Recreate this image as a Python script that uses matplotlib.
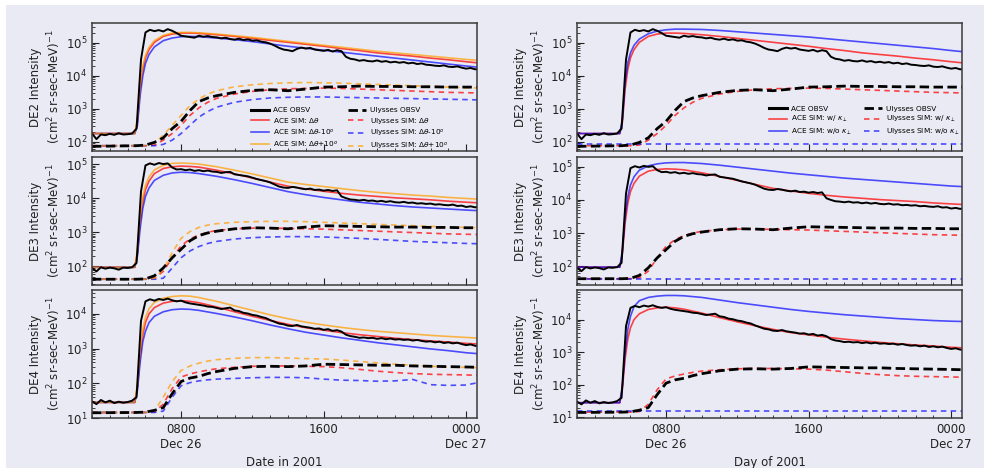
import numpy as np
import matplotlib
matplotlib.use("Agg")
import matplotlib.pyplot as plt
from matplotlib.patches import Rectangle
from matplotlib.ticker import MultipleLocator, LogLocator, NullFormatter

# hours after 2001-12-26 00:00
t_obs = np.arange(3.0, 24.76, 0.25)
t_sim = [3.0, 5.4, 5.55, 5.7, 5.85, 6.0, 6.2, 6.5,
         7.0, 7.5, 8.0, 8.5, 9.0,
         10, 11, 12, 13, 14, 15, 16, 17,
         18, 19, 20, 21, 22, 23, 24, 24.75]
t_uly = [3.0, 5.5, 6.0, 6.5, 7.0, 7.5, 8.0, 8.5,
         9.0, 9.5, 10, 11, 12, 13, 14, 15,
         16, 17, 18, 19, 20, 21, 22, 23,
         24, 24.75]

# everything below is log10(intensity)
ace_obs_de2 = [2.25, 2.08, 2.22, 2.20, 2.24, 2.21, 2.26, 2.22,
               2.23, 2.25, 2.40, 4.50, 5.32, 5.40, 5.36, 5.39,
               5.35, 5.42, 5.37, 5.30, 5.22, 5.20, 5.18, 5.16,
               5.22, 5.19, 5.21, 5.18, 5.17, 5.14, 5.16, 5.12,
               5.10, 5.13, 5.09, 5.11, 5.07, 5.08, 5.04, 5.02,
               4.98, 4.92, 4.85, 4.80, 4.78, 4.75, 4.82, 4.86,
               4.83, 4.85, 4.80, 4.78, 4.76, 4.79, 4.74, 4.78,
               4.75, 4.58, 4.52, 4.50, 4.46, 4.48, 4.45, 4.44,
               4.47, 4.43, 4.45, 4.41, 4.43, 4.40, 4.42, 4.38,
               4.40, 4.36, 4.38, 4.34, 4.33, 4.31, 4.30, 4.32,
               4.28, 4.27, 4.29, 4.25, 4.22, 4.24, 4.20, 4.21]
ace_obs_de3 = [1.95, 1.85, 1.97, 1.93, 1.96, 1.94, 1.90, 1.96,
               1.95, 1.97, 2.10, 4.20, 4.96, 5.02, 4.98, 5.03,
               5.00, 5.02, 4.90, 4.84, 4.85, 4.82, 4.84, 4.80,
               4.82, 4.79, 4.81, 4.78, 4.77, 4.74, 4.76, 4.77,
               4.70, 4.68, 4.66, 4.64, 4.60, 4.56, 4.53, 4.50,
               4.46, 4.40, 4.34, 4.31, 4.30, 4.33, 4.31, 4.28,
               4.26, 4.28, 4.24, 4.25, 4.22, 4.24, 4.21, 4.23,
               4.05, 4.00, 3.96, 3.95, 3.93, 3.95, 3.92, 3.93,
               3.90, 3.92, 3.89, 3.91, 3.88, 3.87, 3.89, 3.86,
               3.87, 3.84, 3.85, 3.83, 3.84, 3.81, 3.82, 3.80,
               3.79, 3.81, 3.77, 3.78, 3.74, 3.76, 3.73, 3.75]
ace_obs_de4 = [1.48, 1.40, 1.52, 1.45, 1.50, 1.43, 1.47, 1.44,
               1.46, 1.50, 1.60, 3.80, 4.36, 4.42, 4.38, 4.43,
               4.40, 4.44, 4.39, 4.36, 4.38, 4.33, 4.30, 4.28,
               4.26, 4.24, 4.21, 4.20, 4.17, 4.14, 4.16, 4.18,
               4.10, 4.08, 4.03, 4.01, 3.97, 3.95, 3.91, 3.88,
               3.82, 3.77, 3.72, 3.70, 3.66, 3.65, 3.68, 3.64,
               3.62, 3.60, 3.57, 3.58, 3.54, 3.56, 3.51, 3.53,
               3.49, 3.40, 3.36, 3.34, 3.31, 3.32, 3.30, 3.31,
               3.28, 3.30, 3.27, 3.29, 3.26, 3.27, 3.25, 3.26,
               3.23, 3.25, 3.22, 3.20, 3.21, 3.18, 3.20, 3.16,
               3.18, 3.15, 3.17, 3.13, 3.10, 3.12, 3.08, 3.07]

# ACE simulations: dtheta (= w/ kappa_perp), dtheta-10, dtheta+10, w/o kappa_perp
ace_sim_de2 = [2.25, 2.25, 2.6, 3.6, 4.2, 4.55, 4.8, 5.02,
               5.2, 5.27, 5.3, 5.3, 5.29,
               5.25, 5.2, 5.14, 5.08, 5.02, 4.96, 4.9, 4.83,
               4.77, 4.7, 4.65, 4.6, 4.54, 4.49, 4.43, 4.39]
ace_minus_de2 = [2.25, 2.25, 2.5, 3.4, 4.0, 4.38, 4.65, 4.88,
                 5.07, 5.15, 5.19, 5.2, 5.19,
                 5.15, 5.1, 5.04, 4.97, 4.9, 4.84, 4.78, 4.72,
                 4.66, 4.6, 4.54, 4.48, 4.42, 4.36, 4.3, 4.26]
ace_plus_de2 = [2.25, 2.25, 2.7, 3.7, 4.3, 4.62, 4.87, 5.07,
                5.23, 5.3, 5.32, 5.32, 5.31,
                5.27, 5.22, 5.17, 5.11, 5.05, 4.99, 4.93, 4.87,
                4.81, 4.75, 4.7, 4.65, 4.6, 4.55, 4.5, 4.47]
ace_nok_de2 = [2.25, 2.25, 2.7, 3.8, 4.4, 4.7, 4.93, 5.12,
               5.28, 5.36, 5.4, 5.42, 5.42,
               5.41, 5.38, 5.34, 5.3, 5.26, 5.22, 5.18, 5.13,
               5.08, 5.03, 4.98, 4.93, 4.88, 4.83, 4.77, 4.73]

ace_sim_de3 = [1.97, 1.97, 2.4, 3.3, 3.9, 4.25, 4.5, 4.72,
               4.87, 4.92, 4.94, 4.93, 4.91,
               4.82, 4.71, 4.59, 4.47, 4.35, 4.27, 4.2, 4.14,
               4.09, 4.05, 4.01, 3.98, 3.95, 3.91, 3.88, 3.86]
ace_minus_de3 = [1.97, 1.97, 2.3, 3.1, 3.7, 4.05, 4.3, 4.52,
                 4.67, 4.74, 4.76, 4.75, 4.72,
                 4.64, 4.54, 4.43, 4.31, 4.19, 4.1, 4.02, 3.95,
                 3.88, 3.83, 3.78, 3.74, 3.71, 3.68, 3.65, 3.63]
ace_plus_de3 = [1.97, 1.97, 2.5, 3.45, 4.05, 4.38, 4.62, 4.83,
                4.96, 5.02, 5.03, 5.02, 5.0,
                4.92, 4.82, 4.71, 4.59, 4.47, 4.4, 4.34, 4.28,
                4.22, 4.17, 4.13, 4.09, 4.06, 4.02, 3.99, 3.97]
ace_nok_de3 = [1.97, 1.97, 2.5, 3.5, 4.1, 4.45, 4.7, 4.9,
               5.03, 5.09, 5.12, 5.13, 5.13,
               5.1, 5.05, 4.99, 4.93, 4.87, 4.81, 4.76, 4.71,
               4.66, 4.62, 4.58, 4.54, 4.5, 4.46, 4.42, 4.4]

ace_sim_de4 = [1.45, 1.45, 1.9, 2.8, 3.4, 3.75, 4.0, 4.18,
               4.31, 4.36, 4.38, 4.36, 4.32,
               4.2, 4.06, 3.93, 3.81, 3.7, 3.6, 3.53, 3.46,
               3.4, 3.35, 3.3, 3.26, 3.22, 3.19, 3.15, 3.13]
ace_minus_de4 = [1.45, 1.45, 1.8, 2.6, 3.2, 3.5, 3.75, 3.93,
                 4.06, 4.12, 4.14, 4.13, 4.1,
                 4.01, 3.91, 3.8, 3.68, 3.57, 3.47, 3.39, 3.31,
                 3.24, 3.17, 3.11, 3.05, 2.99, 2.94, 2.88, 2.85]
ace_plus_de4 = [1.45, 1.45, 2.0, 2.95, 3.55, 3.9, 4.15, 4.33,
                4.45, 4.5, 4.52, 4.51, 4.47,
                4.36, 4.23, 4.1, 3.97, 3.86, 3.76, 3.68, 3.61,
                3.55, 3.5, 3.46, 3.42, 3.38, 3.35, 3.32, 3.3]
ace_nok_de4 = [1.45, 1.45, 2.0, 3.0, 3.7, 4.1, 4.4, 4.58,
               4.68, 4.72, 4.74, 4.74, 4.73,
               4.68, 4.6, 4.52, 4.45, 4.38, 4.31, 4.25, 4.2,
               4.15, 4.11, 4.07, 4.03, 4.0, 3.97, 3.95, 3.94]

uly_obs_de2 = [1.86, 1.88, 1.9, 1.98, 2.12, 2.4, 2.62, 2.95,
               3.22, 3.33, 3.4, 3.5, 3.56, 3.58, 3.55, 3.6,
               3.66, 3.67, 3.69, 3.68, 3.68, 3.67, 3.67, 3.66,
               3.66, 3.66]
uly_sim_de2 = [1.88, 1.88, 1.88, 1.9, 2.05, 2.25, 2.5, 2.8,
               3.03, 3.2, 3.32, 3.45, 3.53, 3.58, 3.61, 3.62,
               3.63, 3.62, 3.6, 3.58, 3.56, 3.54, 3.52, 3.5,
               3.49, 3.48]
uly_minus_de2 = [1.88, 1.88, 1.88, 1.88, 1.92, 2.05, 2.25, 2.5,
                 2.75, 2.92, 3.05, 3.2, 3.28, 3.33, 3.35, 3.36,
                 3.36, 3.35, 3.34, 3.33, 3.32, 3.31, 3.3, 3.29,
                 3.28, 3.27]
uly_plus_de2 = [1.88, 1.88, 1.88, 1.95, 2.2, 2.5, 2.8, 3.1,
                3.3, 3.45, 3.55, 3.67, 3.73, 3.77, 3.79, 3.8,
                3.79, 3.78, 3.76, 3.74, 3.72, 3.7, 3.68, 3.66,
                3.64, 3.63]

uly_obs_de3 = [1.62, 1.62, 1.63, 1.72, 1.95, 2.25, 2.5, 2.75,
               2.9, 2.98, 3.03, 3.1, 3.13, 3.12, 3.1, 3.15,
               3.19, 3.18, 3.17, 3.16, 3.15, 3.15, 3.14, 3.14,
               3.13, 3.13]
uly_sim_de3 = [1.62, 1.62, 1.62, 1.65, 1.85, 2.25, 2.6, 2.8,
               2.92, 3.0, 3.05, 3.1, 3.12, 3.12, 3.11, 3.1,
               3.09, 3.07, 3.05, 3.03, 3.01, 2.99, 2.97, 2.95,
               2.94, 2.93]
uly_minus_de3 = [1.62, 1.62, 1.62, 1.62, 1.65, 1.95, 2.25, 2.45,
                 2.58, 2.67, 2.73, 2.8, 2.84, 2.86, 2.87, 2.87,
                 2.86, 2.84, 2.82, 2.79, 2.76, 2.73, 2.71, 2.69,
                 2.67, 2.66]
uly_plus_de3 = [1.62, 1.62, 1.62, 1.65, 1.9, 2.4, 2.82, 3.02,
                3.14, 3.21, 3.25, 3.29, 3.31, 3.32, 3.32, 3.31,
                3.29, 3.27, 3.25, 3.23, 3.21, 3.19, 3.17, 3.15,
                3.14, 3.13]

uly_obs_de4 = [1.15, 1.16, 1.17, 1.22, 1.3, 1.7, 2.05, 2.15,
               2.2, 2.28, 2.34, 2.43, 2.48, 2.49, 2.48, 2.5,
               2.55, 2.54, 2.53, 2.52, 2.52, 2.5, 2.49, 2.48,
               2.47, 2.46]
uly_sim_de4 = [1.16, 1.16, 1.16, 1.18, 1.4, 1.85, 2.18, 2.27,
               2.33, 2.38, 2.42, 2.46, 2.49, 2.5, 2.5, 2.49,
               2.48, 2.45, 2.4, 2.35, 2.31, 2.28, 2.26, 2.25,
               2.24, 2.23]
uly_minus_de4 = [1.16, 1.16, 1.16, 1.16, 1.2, 1.6, 1.93, 2.02,
                 2.07, 2.1, 2.12, 2.14, 2.16, 2.17, 2.17, 2.16,
                 2.12, 2.09, 2.08, 2.06, 2.07, 2.11, 1.96, 1.94,
                 1.95, 2.03]
uly_plus_de4 = [1.16, 1.16, 1.16, 1.2, 1.6, 2.05, 2.37, 2.5,
                2.58, 2.64, 2.68, 2.72, 2.74, 2.74, 2.73, 2.71,
                2.7, 2.67, 2.63, 2.59, 2.55, 2.52, 2.49, 2.47,
                2.46, 2.45]

# Ulysses w/o kappa_perp stays at background
uly_nok_level = [1.92, 1.60, 1.20]

channels = ["DE2", "DE3", "DE4"]
ace_obs = [ace_obs_de2, ace_obs_de3, ace_obs_de4]
ace_sim = [ace_sim_de2, ace_sim_de3, ace_sim_de4]
ace_minus = [ace_minus_de2, ace_minus_de3, ace_minus_de4]
ace_plus = [ace_plus_de2, ace_plus_de3, ace_plus_de4]
ace_nok = [ace_nok_de2, ace_nok_de3, ace_nok_de4]
uly_obs = [uly_obs_de2, uly_obs_de3, uly_obs_de4]
uly_sim = [uly_sim_de2, uly_sim_de3, uly_sim_de4]
uly_minus = [uly_minus_de2, uly_minus_de3, uly_minus_de4]
uly_plus = [uly_plus_de2, uly_plus_de3, uly_plus_de4]

ylims_left = [(1.72, 5.6), (1.45, 5.2), (1.0, 4.68)]
ylims_right = [(1.72, 5.6), (1.43, 5.29), (0.98, 4.9)]

xtick_pos = [8, 16, 24]
xtick_lab = ["0800\nDec 26", "1600", "0000\nDec 27"]

BG = "#eaeaf4"
RED = (1.0, 0.0, 0.0, 0.72)
BLUE = (0.0, 0.0, 1.0, 0.68)
ORANGE = (1.0, 0.62, 0.0, 0.72)
SPINE = "#3a3a3a"


def L(v):
    return 10 ** np.asarray(v, dtype=float)


def style_axis(ax, row, ylim, xlabel):
    ax.set_facecolor(BG)
    ax.set_yscale("log")
    ax.set_xlim(3.0, 24.62)
    ax.set_ylim(10 ** ylim[0], 10 ** ylim[1])
    ax.set_xticks(xtick_pos)
    ax.xaxis.set_minor_locator(MultipleLocator(1))
    ax.yaxis.set_major_locator(LogLocator(base=10, numticks=10))
    ax.yaxis.set_minor_locator(LogLocator(base=10, subs=np.arange(2, 10), numticks=20))
    ax.yaxis.set_minor_formatter(NullFormatter())
    if row == 2:
        ax.set_xticklabels(xtick_lab)
        ax.set_xlabel(xlabel, fontsize=8.5, color="#222222")
    else:
        ax.set_xticklabels([])
    ax.tick_params(which="both", direction="in", top=False, right=False,
                   colors="#222222", labelsize=8.5)
    ax.tick_params(which="major", length=5, width=0.8)
    ax.tick_params(which="minor", length=2.5, width=0.6)
    for s in ax.spines.values():
        s.set_color(SPINE)
        s.set_linewidth(1.1)
    ax.set_ylabel("%s Intensity\n(cm$^2$ sr-sec-MeV)$^{-1}$" % channels[row],
                  fontsize=8.5, color="#222222", labelpad=2)


fig = plt.figure(figsize=(9.84, 4.68), dpi=100, facecolor=BG)
fig.add_artist(Rectangle((0, 1 - 5 / 468), 1, 5 / 468, transform=fig.transFigure,
                         facecolor="white", edgecolor="none", zorder=-10))
fig.add_artist(Rectangle((0, 0), 6 / 984, 1, transform=fig.transFigure,
                         facecolor="white", edgecolor="none", zorder=-10))

col_x = [0.0935, 0.5864]
col_w = 0.3915
row_b = [0.6774, 0.391, 0.1068]
row_h = 0.273

sim_dash = (3.3, 2.6)
obs_dash = (3.4, 1.6)
leg_kw = dict(ncol=2, fontsize=5.3, frameon=False, loc="lower left",
              handlelength=2.5, labelspacing=0.3, handletextpad=0.5)

for row in range(3):
    # left column: angular offsets
    ax = fig.add_axes([col_x[0], row_b[row], col_w, row_h])
    hr, = ax.plot(t_sim, L(ace_sim[row]), color=RED, lw=1.2)
    hb, = ax.plot(t_sim, L(ace_minus[row]), color=BLUE, lw=1.2)
    ho, = ax.plot(t_sim, L(ace_plus[row]), color=ORANGE, lw=1.2)
    hur, = ax.plot(t_uly, L(uly_sim[row]), color=RED, lw=1.2, dashes=sim_dash)
    hub, = ax.plot(t_uly, L(uly_minus[row]), color=BLUE, lw=1.2, dashes=sim_dash)
    huo, = ax.plot(t_uly, L(uly_plus[row]), color=ORANGE, lw=1.2, dashes=sim_dash)
    hao, = ax.plot(t_obs, L(ace_obs[row]), color="k", lw=1.4)
    huk, = ax.plot(t_uly, L(uly_obs[row]), color="k", lw=2.0, dashes=obs_dash)
    style_axis(ax, row, ylims_left[row], "Date in 2001")
    if row == 0:
        leg = ax.legend([hao, hr, hb, ho, huk, hur, hub, huo],
                        ["ACE OBSV", r"ACE SIM: $\Delta\theta$",
                         r"ACE SIM: $\Delta\theta$-10$^o$", r"ACE SIM: $\Delta\theta$+10$^o$",
                         "Ulysses OBSV", r"Ulysses SIM: $\Delta\theta$",
                         r"Ulysses SIM: $\Delta\theta$-10$^o$", r"Ulysses SIM: $\Delta\theta$+10$^o$"],
                        bbox_to_anchor=(0.395, -0.06), columnspacing=1.3, **leg_kw)
        leg.legend_handles[0].set_linewidth(2.2)

    # right column: with / without perpendicular diffusion
    ax = fig.add_axes([col_x[1], row_b[row], col_w, row_h])
    hr, = ax.plot(t_sim, L(ace_sim[row]), color=RED, lw=1.2)
    hb, = ax.plot(t_sim, L(ace_nok[row]), color=BLUE, lw=1.2)
    hur, = ax.plot(t_uly, L(uly_sim[row]), color=RED, lw=1.2, dashes=sim_dash)
    hub = ax.axhline(10 ** uly_nok_level[row], color=BLUE, lw=1.2, dashes=sim_dash)
    hao, = ax.plot(t_obs, L(ace_obs[row]), color="k", lw=1.4)
    huk, = ax.plot(t_uly, L(uly_obs[row]), color="k", lw=2.0, dashes=obs_dash)
    style_axis(ax, row, ylims_right[row], "Day of 2001")
    if row == 0:
        leg = ax.legend([hao, hr, hb, huk, hur, hub],
                        ["ACE OBSV", r"ACE SIM: w/ $\kappa_\perp$", r"ACE SIM: w/o $\kappa_\perp$",
                         "Ulysses OBSV", r"Ulysses SIM: w/ $\kappa_\perp$",
                         r"Ulysses SIM: w/o $\kappa_\perp$"],
                        bbox_to_anchor=(0.48, 0.06), columnspacing=1.6, **leg_kw)
        leg.legend_handles[0].set_linewidth(2.2)

fig.savefig("out.png", dpi=100)
